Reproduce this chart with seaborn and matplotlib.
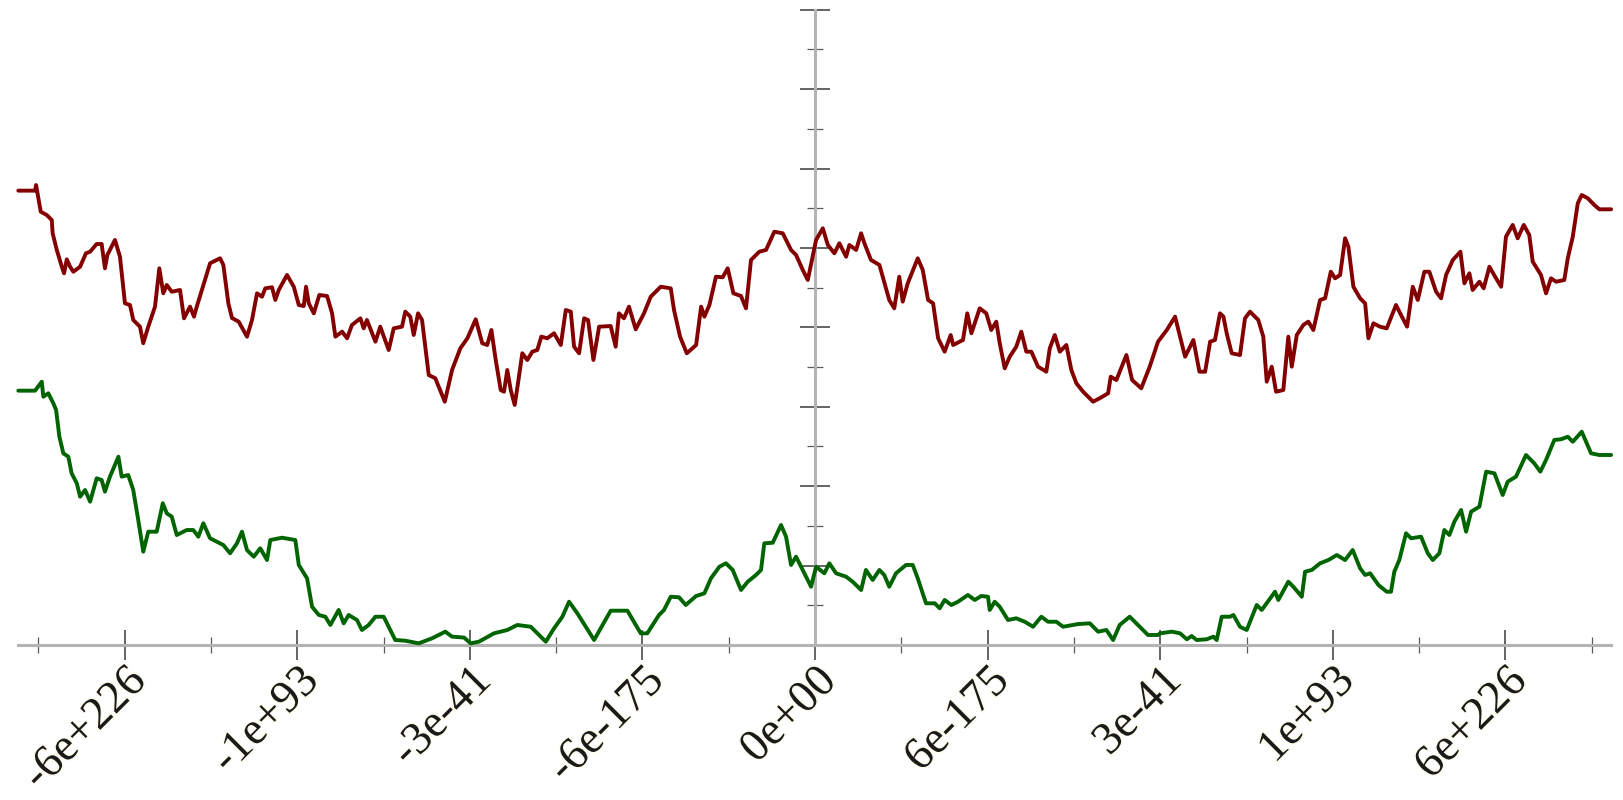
import numpy as np
import pandas as pd
import matplotlib
matplotlib.use("Agg")
import matplotlib.pyplot as plt
import matplotlib.patheffects as pe
import seaborn as sns

# Two random-walk style series on a shared horizontal scale
red_x = [-4.616, -4.519, -4.513, -4.486, -4.451, -4.422, -4.417, -4.393, -4.364, -4.351,
         -4.335, -4.316, -4.297, -4.258, -4.224, -4.200, -4.162, -4.133, -4.114, -4.100,
         -4.056, -4.027, -3.998, -3.969, -3.950, -3.911, -3.892, -3.863, -3.824, -3.799,
         -3.776, -3.756, -3.727, -3.679, -3.656, -3.621, -3.598, -3.582, -3.505, -3.447,
         -3.428, -3.399, -3.378, -3.339, -3.291, -3.262, -3.233, -3.204, -3.185, -3.146,
         -3.127, -3.107, -3.059, -3.020, -2.991, -2.962, -2.949, -2.933, -2.904, -2.872,
         -2.827, -2.798, -2.779, -2.740, -2.711, -2.683, -2.634, -2.615, -2.596, -2.547,
         -2.519, -2.470, -2.441, -2.393, -2.374, -2.345, -2.325, -2.300, -2.277, -2.238,
         -2.200, -2.145, -2.103, -2.055, -2.014, -1.966, -1.928, -1.899, -1.875, -1.850,
         -1.821, -1.802, -1.783, -1.763, -1.740, -1.721, -1.696, -1.667, -1.638, -1.609,
         -1.586, -1.551, -1.512, -1.473, -1.444, -1.415, -1.396, -1.367, -1.338, -1.315,
         -1.284, -1.251, -1.184, -1.155, -1.136, -1.107, -1.078, -1.039, -0.991, -0.952,
         -0.894, -0.836, -0.817, -0.782, -0.743, -0.689, -0.660, -0.641, -0.612, -0.574,
         -0.535, -0.506, -0.473, -0.429, -0.400, -0.371, -0.323, -0.284, -0.236, -0.187,
         -0.139, -0.110, -0.071, -0.042, 0.006, 0.045, 0.074, 0.112, 0.141, 0.180,
         0.199, 0.238, 0.267, 0.286, 0.324, 0.373, 0.430, 0.459, 0.488, 0.508,
         0.537, 0.595, 0.624, 0.655, 0.684, 0.713, 0.751, 0.786, 0.800, 0.857,
         0.882, 0.906, 0.954, 0.992, 1.021, 1.050, 1.070, 1.099, 1.128, 1.166,
         1.195, 1.224, 1.253, 1.292, 1.340, 1.360, 1.389, 1.418, 1.456, 1.485,
         1.514, 1.553, 1.611, 1.649, 1.698, 1.713, 1.746, 1.804, 1.837, 1.890,
         1.939, 1.987, 2.038, 2.086, 2.105, 2.144, 2.192, 2.227, 2.260, 2.289,
         2.317, 2.346, 2.366, 2.385, 2.414, 2.462, 2.491, 2.520, 2.568, 2.597,
         2.617, 2.646, 2.671, 2.713, 2.742, 2.762, 2.791, 2.829, 2.858, 2.887,
         2.926, 2.955, 2.988, 3.013, 3.042, 3.071, 3.090, 3.119, 3.158, 3.187,
         3.206, 3.235, 3.273, 3.312, 3.343, 3.366, 3.395, 3.430, 3.463, 3.492,
         3.530, 3.559, 3.598, 3.627, 3.656, 3.695, 3.739, 3.762, 3.791, 3.810,
         3.849, 3.874, 3.907, 3.940, 3.975, 4.003, 4.042, 4.071, 4.106, 4.138,
         4.158, 4.206, 4.235, 4.264, 4.293, 4.341, 4.361, 4.390, 4.419, 4.442,
         4.477, 4.515, 4.544, 4.612]
red_y = [5.722, 5.722, 5.793, 5.457, 5.415, 5.352, 5.185, 4.975, 4.764, 4.681,
         4.857, 4.764, 4.701, 4.764, 4.933, 4.953, 5.050, 5.050, 4.744, 4.912,
         5.101, 4.890, 4.303, 4.282, 4.093, 4.009, 3.800, 4.009, 4.261, 4.744,
         4.429, 4.534, 4.449, 4.471, 4.114, 4.261, 4.135, 4.261, 4.807, 4.870,
         4.786, 4.303, 4.118, 4.072, 3.883, 4.093, 4.429, 4.386, 4.492, 4.505,
         4.345, 4.471, 4.660, 4.512, 4.282, 4.269, 4.512, 4.303, 4.177, 4.408,
         4.395, 4.177, 3.883, 3.946, 3.863, 4.030, 4.114, 3.988, 4.093, 3.820,
         4.009, 3.715, 3.988, 4.009, 4.198, 4.135, 3.904, 4.177, 4.093, 3.400,
         3.359, 3.064, 3.463, 3.737, 3.863, 4.102, 3.800, 3.778, 3.967, 3.589,
         3.211, 3.190, 3.463, 3.211, 3.023, 3.296, 3.674, 3.589, 3.694, 3.715,
         3.883, 3.863, 3.926, 3.778, 4.219, 4.198, 3.757, 3.674, 4.114, 4.093,
         3.589, 4.009, 4.017, 3.757, 4.177, 4.114, 4.261, 3.976, 4.177, 4.386,
         4.512, 4.492, 4.219, 3.883, 3.674, 3.778, 4.261, 4.135, 4.282, 4.638,
         4.631, 4.744, 4.429, 4.395, 4.240, 4.849, 4.953, 4.975, 5.205, 5.185,
         4.975, 4.912, 4.723, 4.597, 5.101, 5.248, 5.038, 4.933, 5.059, 4.890,
         5.038, 4.975, 5.185, 5.059, 4.849, 4.786, 4.345, 4.240, 4.638, 4.324,
         4.555, 4.870, 4.723, 4.345, 4.303, 3.863, 3.694, 3.904, 3.778, 3.841,
         4.177, 3.926, 4.240, 4.177, 3.967, 4.072, 3.800, 3.485, 3.631, 3.757,
         3.946, 3.694, 3.694, 3.505, 3.442, 3.737, 3.904, 3.694, 3.778, 3.463,
         3.296, 3.190, 3.064, 3.107, 3.170, 3.379, 3.337, 3.652, 3.337, 3.233,
         3.505, 3.820, 3.967, 4.135, 3.967, 3.631, 3.841, 3.442, 3.442, 3.820,
         3.841, 4.177, 4.135, 3.926, 3.674, 3.652, 4.114, 4.198, 4.093, 3.883,
         3.316, 3.505, 3.190, 3.211, 3.883, 3.505, 3.904, 4.030, 4.072, 3.967,
         4.345, 4.366, 4.701, 4.618, 4.660, 5.122, 5.016, 4.512, 4.366, 4.303,
         3.863, 4.051, 4.009, 3.988, 4.156, 4.282, 4.156, 4.009, 4.512, 4.345,
         4.701, 4.701, 4.449, 4.366, 4.660, 4.849, 4.953, 4.555, 4.681, 4.471,
         4.575, 4.492, 4.764, 4.638, 4.512, 5.142, 5.290, 5.122, 5.290, 5.164,
         4.827, 4.660, 4.429, 4.618, 4.575, 4.597, 4.870, 5.142, 5.563, 5.667,
         5.626, 5.541, 5.487, 5.487]

green_x = [-4.616, -4.519, -4.480, -4.471, -4.442, -4.413, -4.397, -4.378, -4.355, -4.326,
           -4.307, -4.277, -4.258, -4.229, -4.200, -4.162, -4.133, -4.114, -4.085, -4.036,
           -4.017, -3.979, -3.950, -3.921, -3.892, -3.863, -3.814, -3.779, -3.756, -3.727,
           -3.698, -3.640, -3.602, -3.573, -3.544, -3.505, -3.466, -3.428, -3.389, -3.349,
           -3.320, -3.291, -3.252, -3.214, -3.175, -3.156, -3.088, -3.011, -2.991, -2.943,
           -2.914, -2.875, -2.837, -2.808, -2.760, -2.731, -2.702, -2.654, -2.625, -2.586,
           -2.547, -2.499, -2.432, -2.374, -2.296, -2.219, -2.142, -2.103, -2.034, -1.995,
           -1.947, -1.860, -1.783, -1.725, -1.647, -1.560, -1.512, -1.464, -1.425, -1.377,
           -1.280, -1.184, -1.087, -1.010, -0.972, -0.904, -0.875, -0.836, -0.788, -0.749,
           -0.689, -0.641, -0.603, -0.554, -0.516, -0.477, -0.429, -0.390, -0.342, -0.313,
           -0.294, -0.245, -0.197, -0.168, -0.139, -0.110, -0.062, -0.023, 0.006, 0.054,
           0.083, 0.122, 0.180, 0.218, 0.267, 0.295, 0.334, 0.373, 0.401, 0.430,
           0.469, 0.527, 0.566, 0.595, 0.643, 0.694, 0.722, 0.751, 0.790, 0.828,
           0.886, 0.925, 0.963, 1.002, 1.012, 1.041, 1.070, 1.118, 1.166, 1.215,
           1.263, 1.311, 1.350, 1.398, 1.437, 1.524, 1.592, 1.640, 1.688, 1.727,
           1.765, 1.823, 1.881, 1.929, 1.987, 1.999, 2.067, 2.115, 2.154, 2.182,
           2.211, 2.269, 2.308, 2.327, 2.356, 2.404, 2.424, 2.462, 2.501, 2.559,
           2.588, 2.665, 2.684, 2.742, 2.771, 2.820, 2.839, 2.878, 2.926, 2.974,
           3.023, 3.071, 3.115, 3.158, 3.187, 3.216, 3.264, 3.312, 3.337, 3.356,
           3.385, 3.424, 3.453, 3.511, 3.550, 3.579, 3.617, 3.646, 3.675, 3.704,
           3.743, 3.772, 3.801, 3.849, 3.888, 3.936, 3.984, 4.013, 4.061, 4.119,
           4.167, 4.202, 4.235, 4.283, 4.322, 4.361, 4.390, 4.442, 4.496, 4.544,
           4.612]
green_y = [3.203, 3.203, 3.316, 3.127, 3.170, 3.044, 2.960, 2.623, 2.414, 2.371,
           2.162, 2.036, 1.868, 1.952, 1.805, 2.099, 2.078, 1.931, 2.120, 2.371,
           2.120, 2.141, 1.952, 1.574, 1.175, 1.427, 1.427, 1.785, 1.659, 1.616,
           1.385, 1.448, 1.448, 1.364, 1.533, 1.344, 1.301, 1.259, 1.155, 1.281,
           1.427, 1.196, 1.112, 1.218, 1.070, 1.322, 1.351, 1.322, 1.008, 0.840,
           0.482, 0.378, 0.356, 0.252, 0.441, 0.273, 0.378, 0.315, 0.189, 0.252,
           0.356, 0.356, 0.063, 0.054, 0.021, 0.084, 0.168, 0.105, 0.094, 0.021,
           0.042, 0.147, 0.189, 0.252, 0.230, 0.042, 0.210, 0.356, 0.545, 0.399,
           0.063, 0.432, 0.432, 0.147, 0.147, 0.378, 0.441, 0.608, 0.601, 0.504,
           0.617, 0.651, 0.840, 0.986, 1.029, 0.945, 0.693, 0.797, 0.882, 0.945,
           1.281, 1.288, 1.511, 1.364, 1.008, 1.112, 0.903, 0.734, 0.986, 0.903,
           1.029, 0.903, 0.860, 0.797, 0.693, 0.945, 0.819, 0.945, 0.882, 0.734,
           0.903, 1.008, 1.008, 0.840, 0.525, 0.525, 0.462, 0.567, 0.504, 0.545,
           0.630, 0.567, 0.617, 0.608, 0.441, 0.545, 0.482, 0.315, 0.336, 0.293,
           0.230, 0.356, 0.293, 0.293, 0.230, 0.264, 0.273, 0.168, 0.189, 0.063,
           0.252, 0.356, 0.230, 0.126, 0.126, 0.147, 0.168, 0.147, 0.072, 0.113,
           0.063, 0.072, 0.105, 0.063, 0.356, 0.356, 0.378, 0.230, 0.189, 0.504,
           0.441, 0.671, 0.567, 0.797, 0.734, 0.608, 0.923, 0.945, 1.029, 1.070,
           1.133, 1.070, 1.196, 0.966, 0.882, 0.903, 0.756, 0.671, 0.671, 0.923,
           1.070, 1.407, 1.344, 1.364, 1.155, 1.070, 1.155, 1.448, 1.385, 1.553,
           1.700, 1.427, 1.679, 1.742, 2.183, 2.162, 1.889, 2.057, 2.120, 2.393,
           2.288, 2.183, 2.330, 2.582, 2.591, 2.623, 2.560, 2.686, 2.414, 2.393,
           2.393]

x_tick_pos = [-4, -3, -2, -1, 0, 1, 2, 3, 4]
x_tick_labels = ["-6e+226", "-1e+93", "-3e-41", "-6e-175", "0e+00",
                 "6e-175", "3e-41", "1e+93", "6e+226"]
y_tick_pos = [0, 1, 2, 3, 4, 5, 6, 7, 8]

red_df = pd.DataFrame({"x": red_x, "y": red_y})
green_df = pd.DataFrame({"x": green_x, "y": green_y})

sns.set_theme(style="white")
plt.rcParams["font.family"] = ["Liberation Serif", "DejaVu Serif"]

fig = plt.figure(figsize=(16.23, 8.0), dpi=100)
ax = fig.add_axes([0, 0, 1, 1])
ax.set_facecolor("white")

sns.lineplot(data=red_df, x="x", y="y", ax=ax, color="#840000",
             linewidth=2.8, estimator=None, sort=False, zorder=3)
sns.lineplot(data=green_df, x="x", y="y", ax=ax, color="#006400",
             linewidth=2.8, estimator=None, sort=False, zorder=3)
for line in ax.get_lines():
    line.set_solid_joinstyle("round")
    line.set_solid_capstyle("round")

ax.set_xlim(-4.722, 4.681)
ax.set_ylim(-1.952, 8.123)
ax.set_xlabel("")
ax.set_ylabel("")

# Axes crossing at the origin
for side in ("top", "right"):
    ax.spines[side].set_visible(False)
axis_col = "#b4b4b4"
ax.spines["bottom"].set_position(("data", 0))
ax.spines["left"].set_position(("data", 0))
ax.spines["bottom"].set_bounds(-4.616, 4.612)
ax.spines["left"].set_bounds(0, 8)
for side in ("bottom", "left"):
    ax.spines[side].set_color(axis_col)
    ax.spines[side].set_linewidth(2.2)
    ax.spines[side].set_zorder(1)

ax.set_xticks(x_tick_pos)
ax.set_xticklabels(x_tick_labels)
ax.set_xticks([-4.5, -3.5, -2.5, -1.5, -0.5, 0.5, 1.5, 2.5, 3.5, 4.5], minor=True)
ax.set_yticks(y_tick_pos)
ax.set_yticklabels([])
ax.set_yticks([0.5, 1.5, 2.5, 3.5, 4.5, 5.5, 6.5, 7.5], minor=True)

ax.tick_params(which="major", direction="inout", length=21, width=1.1,
               color="#3a3a3a", bottom=True, left=True)
ax.tick_params(which="minor", direction="inout", length=11, width=0.9,
               color="#5a5a5a", bottom=True, left=True)
ax.tick_params(axis="x", which="major", pad=0, labelsize=33, labelcolor="#1a1a1a")

halo = [pe.withStroke(linewidth=2, foreground="#fdfbea")]
for lab in ax.get_xticklabels():
    lab.set_rotation(45)
    lab.set_ha("right")
    lab.set_va("top")
    lab.set_rotation_mode("anchor")
    lab.set_path_effects(halo)

fig.savefig("out.png", dpi=100, facecolor="white")
